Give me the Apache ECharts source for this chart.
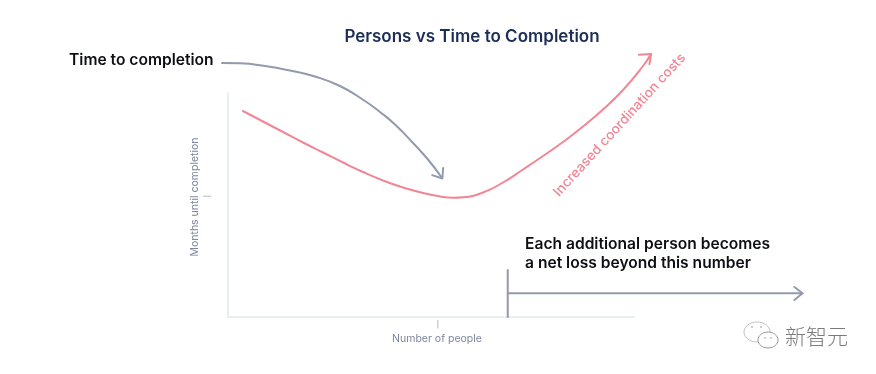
<!DOCTYPE html>
<html>
<head>
<meta charset="utf-8">
<style>html,body{margin:0;padding:0;background:#fff}#c{width:876px;height:374px}</style>
<script src="https://cdn.jsdelivr.net/npm/echarts@6/dist/echarts.min.js"></script>
</head>
<body>
<div id="c"></div>
<script>
// Values on a 0-100 scale for each axis (the axes carry no real numbers in the source)
const costCurve = [[3.69,92],[8.62,87.33],[13.55,82.67],[18.47,78],[23.4,73.56],[28.33,69.11],[33.25,64.89],[38.18,61.11],[43.1,58],[48.03,55.56],[52.96,53.78],[55.42,53.42],[57.88,53.64],[62.81,55.78],[67.73,60.22],[72.66,66],[77.59,72],[82.51,78.22],[87.44,85.11],[92.36,92.67],[97.29,101.33],[102.22,112],[104.19,117.33]];
const costHead = [[101.2,117],[104.19,117.33],[103.8,112.8]];
const pointerCurve = [[-1.48,113.33],[2.96,113.2],[9.11,112],[15.27,110],[21.43,107.33],[27.59,103.11],[33.74,96.44],[37.44,91.56],[41.13,86],[45.57,77.78],[49.26,70.44],[52.71,62.22]];
const pointerHead = [[50.3,63.5],[52.8,62],[53,66.7]];
const limitMark = [[68.9,0.5],[68.9,21.3]];
const limitArrow = [[68.9,11],[141.5,11]];
const limitHead = [[139.5,13.8],[141.5,11],[139.5,8]];
const xTick = [51.7];
const yTick = [54];
const RED = '#f28695', GRAY = '#929aae';

const line = (name, data, color, width, smooth) => ({
  type:'line', name, data, xAxisIndex:1, yAxisIndex:1, smooth: smooth ? 0.5 : false, showSymbol:false, symbol:'none', clip:false, silent:true,
  lineStyle:{color, width, cap:'round', join:'round'}, animation:false
});

const chart = echarts.init(document.getElementById('c'), null, {renderer:'canvas'});
chart.setOption({
  animation:false,
  backgroundColor:'#fff',
  textStyle:{fontFamily:'Inter'},
  grid:[
    {left:228, width:406, top:93, bottom:57, containLabel:false},
    {left:218, width:594, top:30, bottom:56, containLabel:false}
  ],
  xAxis:[{
    type:'value', gridIndex:0, min:0, max:100,
    name:'Number of people', nameLocation:'middle', nameGap:15,
    nameTextStyle:{color:'#7d869c', fontSize:10.5, fontFamily:'Inter', padding:[0,0,0,12]},
    splitLine:{show:false},
    axisLine:{show:true, lineStyle:{color:'#e9eef1', width:2}},
    axisTick:{show:false},
    axisLabel:{customValues:xTick, formatter:()=>'|', color:'#7d869c', fontSize:7, margin:4, fontFamily:'Inter'}
  },{
    type:'value', gridIndex:1, min:-2.463, max:143.84, show:false
  }],
  yAxis:[{
    type:'value', gridIndex:0, min:0, max:100,
    name:'Months until completion', nameLocation:'middle', nameGap:28, nameRotate:90,
    nameTextStyle:{color:'#7d869c', fontSize:10.5, fontFamily:'Inter', padding:[0,0,0,16]},
    splitLine:{show:false},
    axisLine:{show:true, lineStyle:{color:'#e9eef1', width:2}},
    axisTick:{show:false},
    axisLabel:{customValues:yTick, formatter:()=>'|', color:'#7d869c', fontSize:7, margin:17, rotate:90, fontFamily:'Inter'}
  },{
    type:'value', gridIndex:1, min:0, max:128, show:false
  }],
  series:[
    line('Time to completion', costCurve, RED, 2, true),
    line('cost head', costHead, RED, 2, false),
    line('pointer', pointerCurve, GRAY, 2, true),
    line('pointer head', pointerHead, GRAY, 2, false),
    line('limit', limitMark, GRAY, 2, false),
    line('limit arrow', limitArrow, GRAY, 2, false),
    line('limit head', limitHead, GRAY, 2, false)
  ],
  graphic:[
    {type:'text', style:{text:'Persons vs Time to Completion', x:472, y:37, textAlign:'center', textVerticalAlign:'middle', font:'600 17px Inter', fill:'#1b2e56'}},
    {type:'text', style:{text:'Time to completion', x:69, y:60, textAlign:'left', textVerticalAlign:'middle', font:'600 15.6px Inter', fill:'#0d0f14'}},
    {type:'text', style:{text:'Each additional person becomes', x:525, y:244, textAlign:'left', textVerticalAlign:'middle', font:'600 15.6px Inter', fill:'#0d0f14'}},
    {type:'text', style:{text:'a net loss beyond this number', x:525, y:263, textAlign:'left', textVerticalAlign:'middle', font:'600 15.6px Inter', fill:'#0d0f14'}},
    {type:'text', x:619.5, y:125, rotation:Math.PI*47.5/180, style:{text:'Increased coordination costs', x:0, y:0, textAlign:'center', textVerticalAlign:'middle', font:'500 13.6px Inter', fill:RED}},
    {type:'text', style:{text:'新智元', x:785, y:336, textAlign:'left', textVerticalAlign:'middle', font:'300 21px "Noto Sans CJK SC"', fill:'#7a7a7a'}},
    {type:'ellipse', shape:{cx:757,cy:332,rx:13,ry:10}, style:{fill:'none', stroke:'#c4c4c4', lineWidth:1}},
    {type:'ellipse', shape:{cx:768,cy:340,rx:10,ry:8}, style:{fill:'#fff', stroke:'#9a9a9a', lineWidth:1}},
    {type:'circle', shape:{cx:752,cy:327,r:1}, style:{fill:'#bbb'}},
    {type:'circle', shape:{cx:761,cy:327,r:1}, style:{fill:'#bbb'}},
    {type:'circle', shape:{cx:765,cy:338,r:0.8}, style:{fill:'#999'}},
    {type:'circle', shape:{cx:771,cy:338,r:0.8}, style:{fill:'#999'}}
  ]
});
</script>
</body>
</html>
